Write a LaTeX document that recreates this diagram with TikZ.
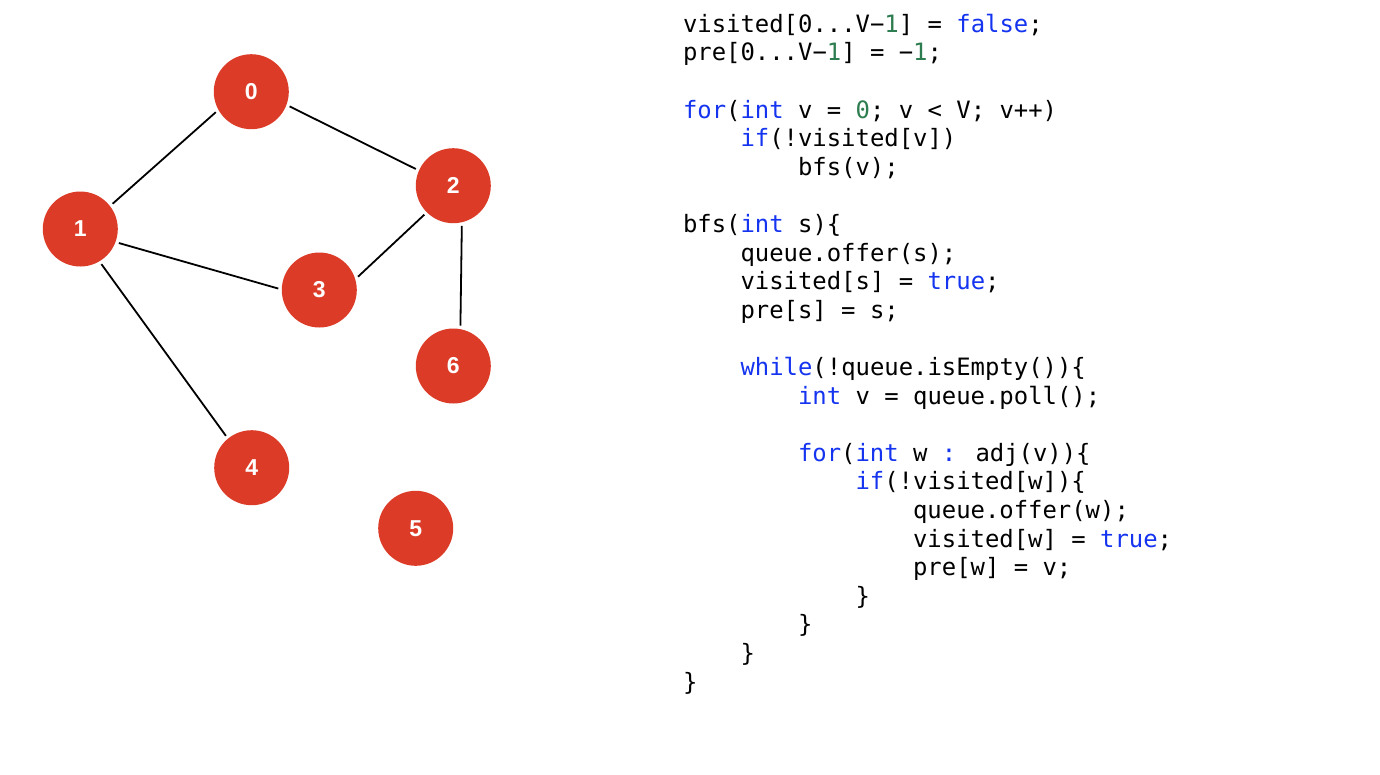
\documentclass[tikz,border=0pt]{standalone}
\usepackage{fontspec}
\setmainfont{Liberation Sans}
\newfontfamily\codefont{DejaVu Sans Mono}
\usetikzlibrary{calc}
\definecolor{nodered}{RGB}{220,59,39}
\definecolor{kwblue}{RGB}{20,52,240}
\definecolor{numgreen}{RGB}{45,125,80}
\newcommand\kwd[1]{\textcolor{kwblue}{#1}}
\newcommand\nmb[1]{\textcolor{numgreen}{#1}}
\tikzset{
  vert/.style={circle, fill=nodered, draw=none, minimum size=75pt, inner sep=0pt, outer sep=3.5pt,
    text=white, font=\fontsize{23}{23}\selectfont\bfseries},
  edge/.style={line width=1.8pt, black},
  codeline/.style={anchor=base west, inner sep=0pt, outer sep=0pt,
    font=\codefont\fontsize{23.9}{28.6}\selectfont, text=black}
}
\begin{document}
\begin{tikzpicture}[x=1pt,y=-1pt]
\useasboundingbox (0,0) rectangle (1380,774);
\fill[white] (0,0) rectangle (1380,774);
% vertices
\node[vert] (n0) at (251.3,91.7) {0};
\node[vert] (n1) at (80.3,229) {1};
\node[vert] (n2) at (453.3,185.7) {2};
\node[vert] (n3) at (319.3,290) {3};
\node[vert] (n4) at (251.7,467.7) {4};
\node[vert] (n5) at (415.7,528.3) {5};
\node[vert] (n6) at (453.3,366) {6};
% edges
\draw[edge] (n1.38.2) -- (n0.210.8);
\draw[edge] (n0.-21.7) -- (n2.156.6);
\draw[edge] (n1.-20.2) -- (n3.178.5);
\draw[edge] (n1.-59.7) -- (n4.129);
\draw[edge] (n2.225) -- (n3.19.6);
\draw[edge] (n2.-78.8) -- (n6.80.7);
% code
\def\cx{683}
\def\cw{14.38}
\def\cy{32.3}
\def\ch{28.6}
\node[codeline] (c0) at (\cx+0*\cw, \cy+0*\ch) {visited[0...V−\nmb{1}] = \kwd{false};};
\node[codeline] (c1) at (\cx+0*\cw, \cy+1*\ch) {pre[0...V−\nmb{1}] = −\nmb{1};};
\node[codeline] (c3) at (\cx+0*\cw, \cy+3*\ch) {\kwd{for}(\kwd{int} v = \nmb{0}; v < V; v++)};
\node[codeline] (c4) at (\cx+4*\cw, \cy+4*\ch) {\kwd{if}(!visited[v])};
\node[codeline] (c5) at (\cx+8*\cw, \cy+5*\ch) {bfs(v);};
\node[codeline] (c7) at (\cx+0*\cw, \cy+7*\ch) {bfs(\kwd{int} s)\{};
\node[codeline] (c8) at (\cx+4*\cw, \cy+8*\ch) {queue.offer(s);};
\node[codeline] (c9) at (\cx+4*\cw, \cy+9*\ch) {visited[s] = \kwd{true};};
\node[codeline] (c10) at (\cx+4*\cw, \cy+10*\ch) {pre[s] = s;};
\node[codeline] (c12) at (\cx+4*\cw, \cy+12*\ch) {\kwd{while}(!queue.isEmpty())\{};
\node[codeline] (c13) at (\cx+8*\cw, \cy+13*\ch) {\kwd{int} v = queue.poll();};
\node[codeline] (c15) at (\cx+8*\cw, \cy+15*\ch) {\kwd{for}(\kwd{int} w \kwd{:} adj(v))\{};
\node[codeline] (c16) at (\cx+12*\cw, \cy+16*\ch) {\kwd{if}(!visited[w])\{};
\node[codeline] (c17) at (\cx+16*\cw, \cy+17*\ch) {queue.offer(w);};
\node[codeline] (c18) at (\cx+16*\cw, \cy+18*\ch) {visited[w] = \kwd{true};};
\node[codeline] (c19) at (\cx+16*\cw, \cy+19*\ch) {pre[w] = v;};
\node[codeline] (c20) at (\cx+12*\cw, \cy+20*\ch) {\}};
\node[codeline] (c21) at (\cx+8*\cw, \cy+21*\ch) {\}};
\node[codeline] (c22) at (\cx+4*\cw, \cy+22*\ch) {\}};
\node[codeline] (c23) at (\cx+0*\cw, \cy+23*\ch) {\}};
\end{tikzpicture}
\end{document}
